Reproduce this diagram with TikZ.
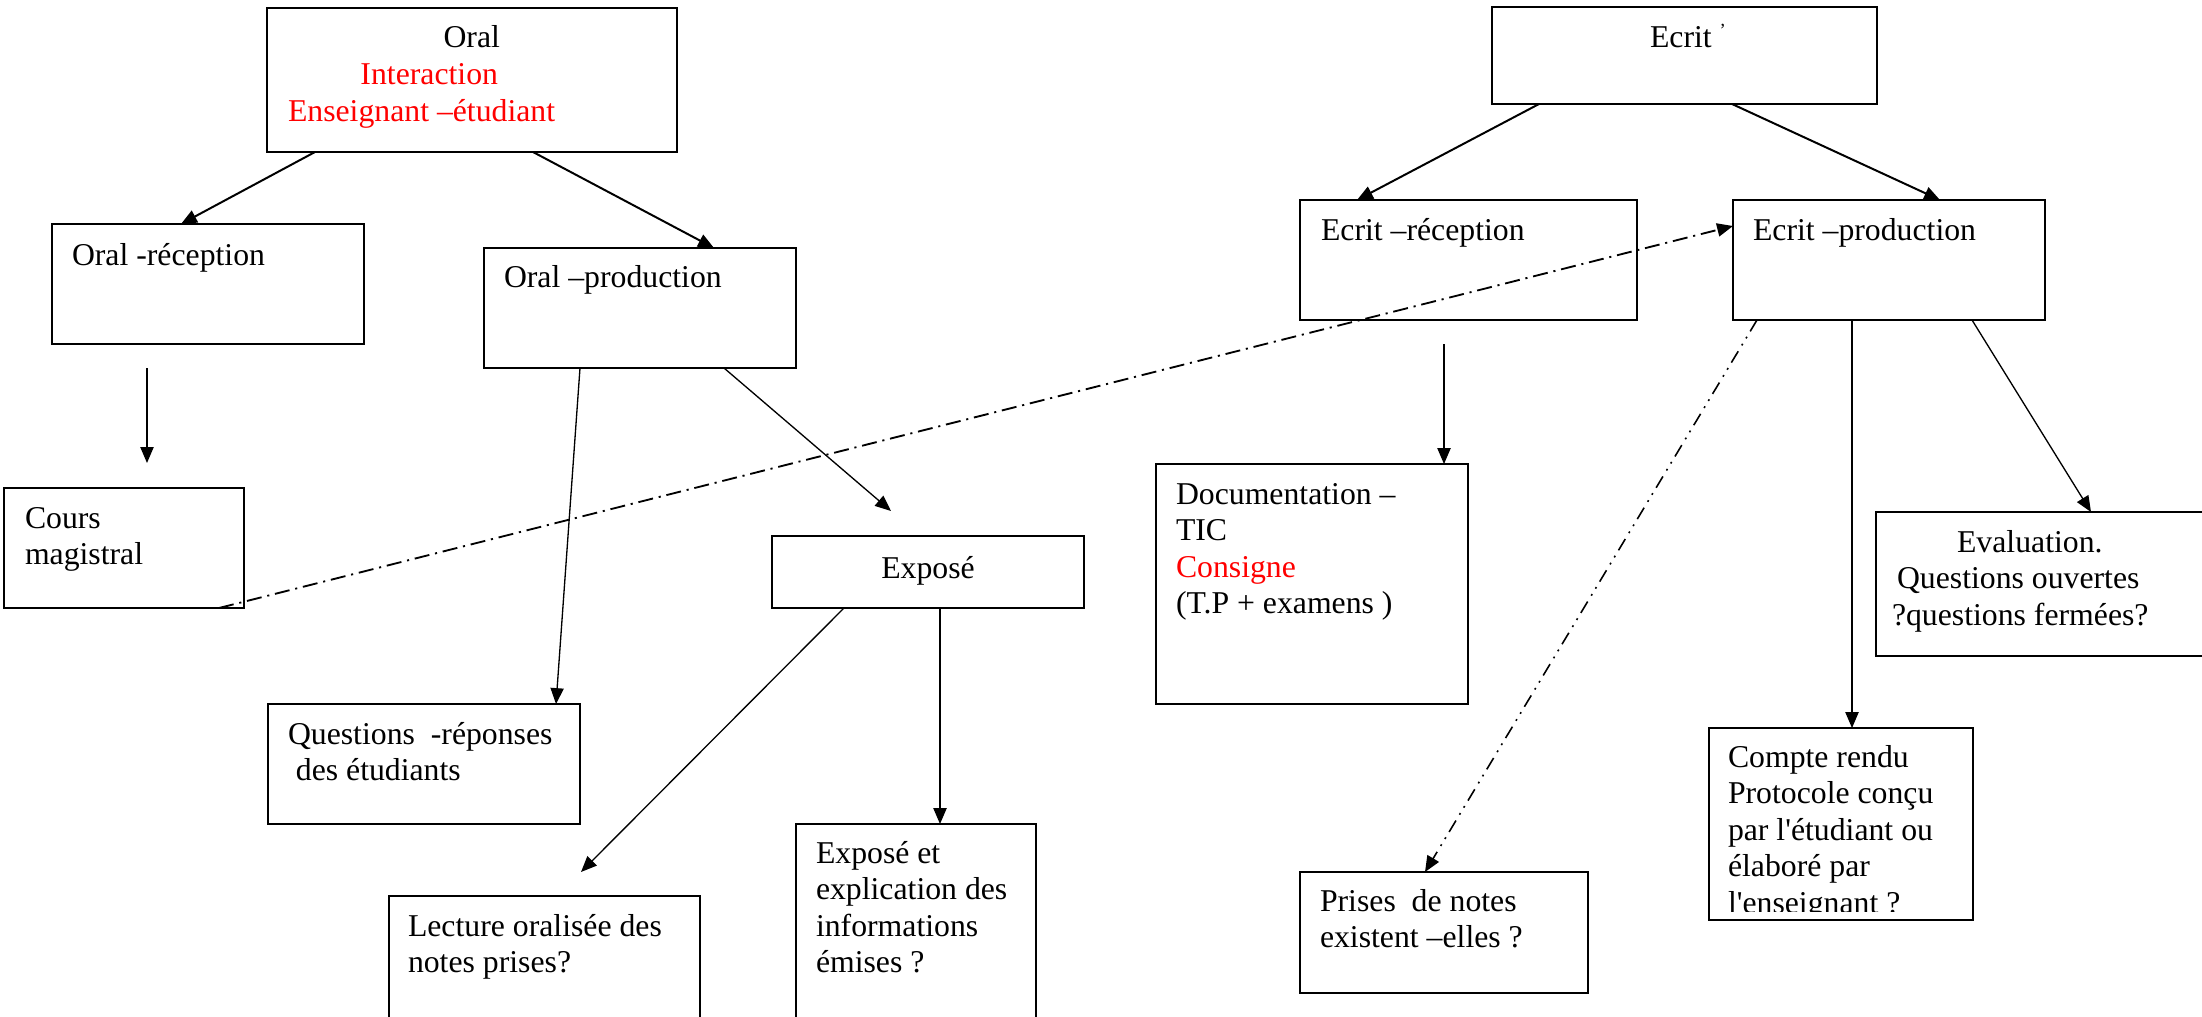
\documentclass[tikz,border=0pt]{standalone}
\usepackage{fontspec}
\setmainfont{Liberation Serif}[Ligatures=TeXOff]
\usetikzlibrary{arrows.meta,calc,fit}

% invisible rule fixing the height of every first line
\newcommand\firststrut{\rule{0pt}{10pt}}

\begin{document}
\begin{tikzpicture}[x=0.378pt,y=-0.378pt,
  box/.style={draw, line width=0.7pt, inner sep=0pt, outer sep=0pt},
  txt/.style={anchor=north west, inner sep=0pt, outer sep=0pt, align=left,
              font=\fontsize{12pt}{13.8pt}\selectfont},
  arr/.style={-{Triangle[length=6pt,width=5pt]}},
  thickarr/.style={arr, line width=0.75pt},
  thinarr/.style={arr, line width=0.5pt},
  dashdot/.style={arr, line width=0.7pt,
                  dash pattern=on 5.7pt off 2.2pt on 0.8pt off 2.2pt},
  dashdotdot/.style={arr, line width=0.6pt,
                  dash pattern=on 5pt off 2.4pt on 0.7pt off 2.4pt on 0.7pt off 2.6pt}]

\useasboundingbox (0,0) rectangle (2202,1016);

% ---- boxes
\node[box, fit={(267,8) (677,152)}]     (oral)   {};
\node[box, fit={(52,224) (364,344)}]    (orec)   {};
\node[box, fit={(484,248) (796,368)}]   (oprod)  {};
\node[box, fit={(4,488) (244,608)}]     (cours)  {};
\node[box, fit={(772,536) (1084,608)}]  (expo)   {};
\node[box, fit={(268,704) (580,824)}]   (quest)  {};
\node[box, fit={(389,896) (700,1022)}]  (lect)   {};
\node[box, fit={(796,824) (1036,1022)}] (expoet) {};
\node[box, fit={(1492,7) (1877,104)}]   (ecrit)  {};
\node[box, fit={(1300,200) (1637,320)}] (erec)   {};
\node[box, fit={(1733,200) (2045,320)}] (eprod)  {};
\node[box, fit={(1156,464) (1468,704)}] (doc)    {};
\node[box, fit={(1876,512) (2210,656)}] (eval)   {};
\node[box, fit={(1709,728) (1973,920)}] (compte) {};
\node[box, fit={(1300,872) (1588,993)}] (prises) {};

% ---- texts (second coordinate: first baseline minus the strut height)
\node[txt] (oraltxt) at (288,48-26.46)
  {\firststrut\hspace*{58.8pt}Oral\\
   \hspace*{27.4pt}\textcolor{red}{Interaction}\\
   \textcolor{red}{Enseignant –étudiant}};
\node[txt] (orectxt)  at (72,265-26.46)   {\firststrut Oral -réception};
\node[txt] (oprodtxt) at (504,288-26.46)  {\firststrut Oral –production};
\node[txt] (courstxt) at (25,528-26.46)   {\firststrut Cours\\magistral};
\node[txt, anchor=north] (expotxt) at (928,578-26.46) {\firststrut Exposé};
\node[txt] (questtxt) at (288,744-26.46)
  {\firststrut Questions~~-réponses\\\hspace*{3pt}des étudiants};
\node[txt] (lecttxt)  at (408,936-26.46)  {\firststrut Lecture oralisée des\\notes prises?};
\node[txt] (expoettxt) at (816,863-26.46)
  {\firststrut Exposé et\\explication des\\informations\\émises ?};
\node[txt] (ecrittxt) at (1650,48-26.46)
  {\firststrut Ecrit \raisebox{4.5pt}{\scriptsize ’}};
\node[txt] (erectxt)  at (1321,240-26.46) {\firststrut Ecrit –réception};
\node[txt] (eprodtxt) at (1753,241-26.46) {\firststrut Ecrit –production};
\node[txt] (doctxt)   at (1176,504-26.46)
  {\firststrut Documentation –\\TIC\\\textcolor{red}{Consigne}\\(T.P + examens )};
\node[txt] (evaltxt)  at (1892,552-26.46)
  {\firststrut\hspace*{24.6pt}Evaluation.\\
   \hspace*{1.9pt}Questions ouvertes\\?questions fermées?};
\begin{scope}
  \clip (1700,720) rectangle (1980,911);
  \node[txt] (comptetxt) at (1728,767-26.46)
    {\firststrut Compte rendu\\Protocole conçu\\par l'étudiant ou\\élaboré par\\l'enseignant ?};
\end{scope}
\node[txt] (prisestxt) at (1320,911-26.46)
  {\firststrut Prises~~de notes\\existent –elles ?};

% ---- connectors of the oral branch
\draw[thickarr] ($(oral.south west)+(48,0)$)  -- ($(orec.north west)+(129,0)$);
\draw[thickarr] ($(oral.south west)+(266,0)$) -- ($(oprod.north west)+(230,0)$);
\draw[thinarr]  ($(orec.south west)+(95,24)$) -- ($(cours.north west)+(143,-25)$);
\draw[thinarr]  ($(oprod.south west)+(96,0)$) -- ($(quest.north west)+(288,0)$);
\draw[thinarr]  ($(oprod.south west)+(240,0)$) -- ($(expo.north west)+(119,-25)$);
\draw[thinarr]  ($(expo.south west)+(72,0)$)  -- ($(lect.north west)+(192,-24)$);
\draw[thinarr]  ($(expo.south west)+(168,0)$) -- ($(expoet.north west)+(144,0)$);

% ---- link from the lecture to written production
\draw[dashdot]  ($(cours.south west)+(215,0)$) -- ($(eprod.north west)+(0,26)$);

% ---- connectors of the written branch
\draw[thickarr] ($(ecrit.south west)+(47,0)$)  -- ($(erec.north west)+(57,0)$);
\draw[thickarr] ($(ecrit.south west)+(240,0)$) -- ($(eprod.north west)+(207,0)$);
\draw[thinarr]  ($(erec.south west)+(144,24)$) -- ($(doc.north west)+(288,0)$);
\draw[dashdotdot] ($(eprod.south west)+(24,0)$) -- ($(prises.north west)+(125,0)$);
\draw[thinarr]  ($(eprod.south west)+(119,0)$) -- ($(compte.north west)+(143,0)$);
\draw[thinarr]  ($(eprod.south west)+(239,0)$) -- ($(eval.north west)+(215,0)$);

\end{tikzpicture}
\end{document}
